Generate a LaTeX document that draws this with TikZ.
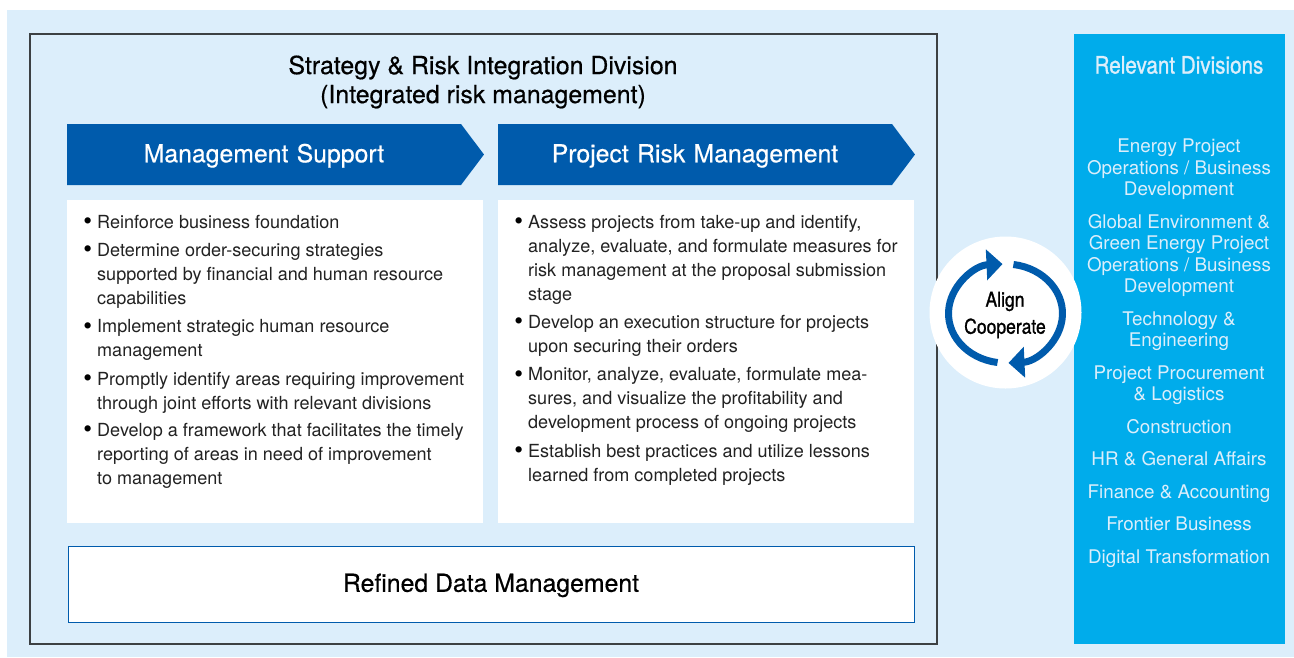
\documentclass[tikz,border=0pt]{standalone}
\usepackage{fontspec}
\setmainfont{TeX Gyre Heros}
\newfontfamily\condfont[FakeStretch=0.86,FakeBold=1.1]{TeX Gyre Heros}
\newfontfamily\headfont[FakeBold=0.5]{TeX Gyre Heros}
\usepackage{tikz}
\usetikzlibrary{arrows.meta,positioning,shapes.symbols}

\definecolor{palebg}{HTML}{DCEEFB}
\definecolor{deepblue}{HTML}{005BAC}
\definecolor{skyblue}{HTML}{00ACEB}
\definecolor{framegray}{HTML}{3C4043}
\definecolor{bodytext}{HTML}{222222}

\newcommand{\bul}[1]{\llap{{\color{black}\fontsize{25}{24}\selectfont\raisebox{-1.2pt}{\textbullet}}\hspace{5pt}}\strut #1\strut}
\newcommand{\dv}[1]{\strut #1\strut}
\newcommand{\hd}[1]{\rule[-4pt]{0pt}{25pt}#1}

\tikzset{
	panel/.style={fill=white,draw=none,minimum width=416pt,minimum height=323pt,inner sep=0pt},
	headarrow/.style={signal,signal to=east,signal pointer angle=106,fill=deepblue,text=white,
		minimum height=61pt,text width=394pt,align=center,inner sep=0pt,
		font=\headfont\fontsize{24.8}{28}\selectfont},
	listitem/.style={align=left,inner sep=0pt,text=bodytext,font=\fontsize{18.05}{24}\selectfont},
	nextitem/.style={below=4pt of #1.south west,anchor=north west},
	divitem/.style={align=center,inner sep=0pt,text=palebg,font=\fontsize{18.8}{21.5}\selectfont},
	cycle/.style={draw=deepblue,line width=7pt,-{Triangle[length=16pt,width=30pt]}}
}

\begin{document}
\begin{tikzpicture}[x=1pt,y=-1pt]
		\useasboundingbox (0,0) rectangle (1294,657);
		\fill[palebg] (7,10) rectangle (1294,657);

		\node[draw=framegray,line width=1.1pt,minimum width=907pt,minimum height=610pt,inner sep=0pt] (frame) at (483.5,339) {};
		\node[fill=skyblue,minimum width=211pt,minimum height=610pt,inner sep=0pt] (relevant) at (1179.5,339) {};

		\node[align=center,inner sep=0pt,font=\headfont\fontsize{24.9}{29}\selectfont] (title) at (483,82)
		{Strategy \& Risk Integration Division\\(Integrated risk management)};

		% column heads
		\node[headarrow] (support) at (264,154.5) {\hd{Management Support}};
		\node[headarrow] (projrisk) at (695,154.5) {\hd{Project Risk Management}};

		\node[panel] (supportbox) at (275,361.5) {};
		\node[panel] (projbox) at (706,361.5) {};

		% left column
		\node[listitem,anchor=north west] (ms1) at (97,211) {\bul{Reinforce business foundation}};
		\node[listitem,nextitem=ms1] (ms2) {\bul{Determine order-securing strategies\\
			supported by financial and human resource\\capabilities}};
		\node[listitem,nextitem=ms2] (ms3) {\bul{Implement strategic human resource\\management}};
		\node[listitem,nextitem=ms3] (ms4) {\bul{Promptly identify areas requiring improvement\\
			through joint efforts with relevant divisions}};
		\node[listitem,below=2.6pt of ms4.south west,anchor=north west] (ms5) {\bul{Develop a framework that facilitates the timely\\
			reporting of areas in need of improvement\\to management}};

		% right column
		\node[listitem,anchor=north west] (pr1) at (528,211) {\bul{Assess projects from take-up and identify,\\
			analyze, evaluate, and formulate measures for\\
			risk management at the proposal submission\\stage}};
		\node[listitem,nextitem=pr1] (pr2) {\bul{Develop an execution structure for projects\\upon securing their orders}};
		\node[listitem,nextitem=pr2] (pr3) {\bul{Monitor, analyze, evaluate, formulate mea-\\
			sures, and visualize the profitability and\\
			development process of ongoing projects}};
		\node[listitem,nextitem=pr3] (pr4) {\bul{Establish best practices and utilize lessons\\learned from completed projects}};

		\node[fill=white,draw=deepblue,line width=0.7pt,minimum width=846pt,minimum height=76pt,inner sep=0pt,
			font=\headfont\fontsize{24.8}{28}\selectfont] (refined) at (491,584) {\hd{Refined Data Management}};

		% align / cooperate badge
		\node[circle,fill=white,minimum size=152pt,inner sep=0pt] (badge) at (1005.5,312.5) {};
		\coordinate (hub) at (1005.5,313.5);
		\draw[cycle] ([shift={(82:57pt and 49.5pt)}]hub) arc[start angle=82,end angle=-87,x radius=57pt,y radius=49.5pt];
		\draw[cycle] ([shift={(-98:57pt and 49.5pt)}]hub) arc[start angle=-98,end angle=-267,x radius=57pt,y radius=49.5pt];
		\node[align=center,inner sep=0pt,font=\condfont\fontsize{20.4}{27}\selectfont] (cooperate) at (1005,315) {Align\\Cooperate};

		% relevant divisions
		\node[inner sep=0pt,text=palebg,font=\condfont\fontsize{24}{27}\selectfont] (reltitle) at (1179,65) {Relevant Divisions};
		\node[divitem,anchor=north] (d1) at (1179,137.5) {\dv{Energy Project\\Operations / Business\\Development}};
		\node[divitem,below=10.6pt of d1] (d2) {\dv{Global Environment \&\\Green Energy Project\\Operations / Business\\Development}};
		\node[divitem,below=10.6pt of d2] (d3) {\dv{Technology \&\\Engineering}};
		\node[divitem,below=10.6pt of d3] (d4) {\dv{Project Procurement\\\& Logistics}};
		\node[divitem,below=10.6pt of d4] (d5) {\dv{Construction}};
		\node[divitem,below=10.6pt of d5] (d6) {\dv{HR \& General Affairs}};
		\node[divitem,below=10.6pt of d6] (d7) {\dv{Finance \& Accounting}};
		\node[divitem,below=10.6pt of d7] (d8) {\dv{Frontier Business}};
		\node[divitem,below=10.6pt of d8] (d9) {\dv{Digital Transformation}};
\end{tikzpicture}
\end{document}
